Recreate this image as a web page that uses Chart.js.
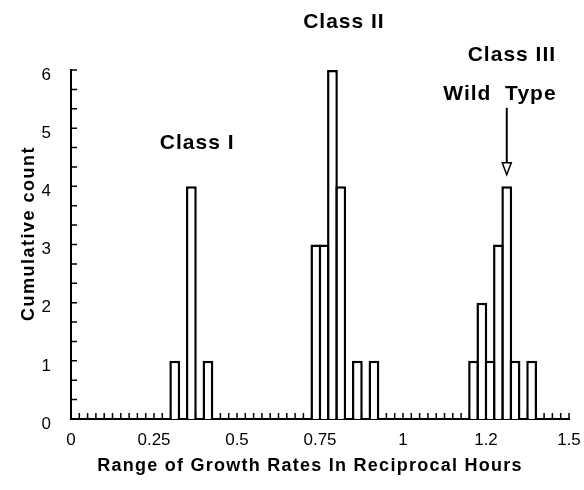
<!DOCTYPE html>
<html>
<head>
<meta charset="utf-8">
<script src="https://cdn.jsdelivr.net/npm/chart.js@4.4.1/dist/chart.umd.min.js"></script>
<style>
  html, body { margin: 0; padding: 0; background: #fff; }
  canvas { display: block; }
</style>
</head>
<body>
<canvas id="chart" width="584" height="490"></canvas>
<script>
// histogram bins (lower edge, 1/h) and counts
const binWidth = 0.025;
const binStarts = [0.3, 0.35, 0.4, 0.725, 0.75, 0.775, 0.8, 0.85, 0.9, 1.2, 1.225, 1.25, 1.275, 1.3, 1.325, 1.375];
const counts    = [1,   4,    1,   3,     3,    6,     4,   1,    1,   1,   2,     1,    3,     4,   1,     1];

// tick values and the labels printed on them
const xTickValues = [0, 0.25, 0.5, 0.75, 1, 1.25, 1.5];
const xTickLabels = ['0', '0.25', '0.5', '0.75', '1', '1.2', '1.5'];
const yTickLabels = ['0', '1', '2', '3', '4', '5', '6'];

// text labels on the plot (in data units)
const notes = [
  { text: 'Class I',    x: 0.38,  y: 4.75 },
  { text: 'Class II',   x: 0.822, y: 6.82 },
  { text: 'Class III',  x: 1.328, y: 6.26 },
  { text: 'Wild  Type', x: 1.292, y: 5.58 }
];
const wildTypeBin = 1.3;

const FONT = '"Liberation Sans", Arial, Helvetica, sans-serif';
const X_SUB = 10;  // minor ticks per labelled x interval
const Y_SUB = 3;   // minor ticks per count

// small inward ticks along both axes
const minorTicks = {
  id: 'minorTicks',
  beforeDatasetsDraw(chart) {
    const { ctx, chartArea: a, scales: { x, y } } = chart;
    ctx.save();
    ctx.strokeStyle = '#000';
    ctx.lineWidth = 1.5;
    ctx.beginPath();
    for (let i = 0; i < x.ticks.length - 1; i++) {
      const p0 = x.getPixelForTick(i), p1 = x.getPixelForTick(i + 1);
      for (let k = 0; k <= X_SUB; k++) {
        const px = p0 + (p1 - p0) * k / X_SUB;
        ctx.moveTo(px, a.bottom);
        ctx.lineTo(px, a.bottom - 6);
      }
    }
    for (let i = 0; i < y.ticks.length - 1; i++) {
      const p0 = y.getPixelForTick(i), p1 = y.getPixelForTick(i + 1);
      for (let k = 0; k <= Y_SUB; k++) {
        const py = p0 + (p1 - p0) * k / Y_SUB;
        ctx.moveTo(a.left, py);
        ctx.lineTo(a.left + 6, py);
      }
    }
    ctx.stroke();
    ctx.restore();
  }
};

// class labels, wild type arrow and axis titles
const annotations = {
  id: 'annotations',
  afterDraw(chart) {
    const { ctx, chartArea: a, scales: { x, y } } = chart;
    ctx.save();
    ctx.fillStyle = '#000';
    ctx.strokeStyle = '#000';
    ctx.textAlign = 'center';
    ctx.textBaseline = 'middle';

    ctx.font = 'bold 21px ' + FONT;
    ctx.letterSpacing = '1px';
    notes.forEach(n => ctx.fillText(n.text, x.getPixelForValue(n.x), y.getPixelForValue(n.y)));

    // arrow down to the wild type bar
    const ax = x.getPixelForValue(wildTypeBin + binWidth / 2);
    const top = y.getPixelForValue(5.35);
    const tip = y.getPixelForValue(4.2);
    ctx.lineWidth = 2;
    ctx.beginPath();
    ctx.moveTo(ax, top);
    ctx.lineTo(ax, tip - 12);
    ctx.stroke();
    ctx.lineWidth = 1.5;
    ctx.beginPath();
    ctx.moveTo(ax - 4.5, tip - 12);
    ctx.lineTo(ax + 4.5, tip - 12);
    ctx.lineTo(ax, tip);
    ctx.closePath();
    ctx.fillStyle = '#fff';
    ctx.fill();
    ctx.stroke();
    ctx.fillStyle = '#000';

    // axis titles
    ctx.font = 'bold 18px ' + FONT;
    ctx.letterSpacing = '1.25px';
    ctx.fillText('Range of Growth Rates In Reciprocal Hours', (a.left + a.right) / 2 - 10, a.bottom + 47);

    ctx.letterSpacing = '1.5px';
    ctx.translate(29, (a.top + a.bottom) / 2 - 11);
    ctx.rotate(-Math.PI / 2);
    ctx.fillText('Cumulative count', 0, 0);
    ctx.restore();
  }
};

new Chart(document.getElementById('chart'), {
  type: 'bar',
  data: {
    datasets: [{
      data: binStarts.map((s, i) => ({ x: s + binWidth / 2, y: counts[i] })),
      backgroundColor: '#fff',
      borderColor: '#000',
      borderWidth: 2.5,
      borderSkipped: 'start',
      barPercentage: 1.3,
      categoryPercentage: 1,
      inflateAmount: 0
    }]
  },
  options: {
    responsive: false,
    devicePixelRatio: 1,
    animation: false,
    layout: { padding: { top: 70, right: 15, left: 0, bottom: 0 } },
    plugins: { legend: { display: false }, tooltip: { enabled: false } },
    scales: {
      x: {
        type: 'linear',
        min: 0,
        max: 1.5,
        offset: false,
        grid: { display: false, drawTicks: false },
        border: { display: true, color: '#000', width: 2 },
        ticks: {
          stepSize: 0.25,
          autoSkip: false,
          maxRotation: 0,
          padding: 11,
          color: '#000',
          font: { family: FONT, size: 17 },
          callback: v => xTickLabels[xTickValues.findIndex(t => Math.abs(t - v) < 1e-6)] ?? ''
        },
        afterFit: s => { s.height = 71; s.paddingLeft = 0; s.paddingRight = 0; }
      },
      y: {
        min: 0,
        max: 6,
        grid: { display: false, drawTicks: false },
        border: { display: true, color: '#000', width: 2 },
        ticks: {
          stepSize: 1,
          padding: 20,
          labelOffset: 5,
          color: '#000',
          font: { family: FONT, size: 17 },
          callback: v => yTickLabels[v] ?? ''
        },
        afterFit: s => { s.width = 71; s.paddingTop = 0; s.paddingBottom = 0; }
      }
    }
  },
  plugins: [minorTicks, annotations]
});
</script>
</body>
</html>
